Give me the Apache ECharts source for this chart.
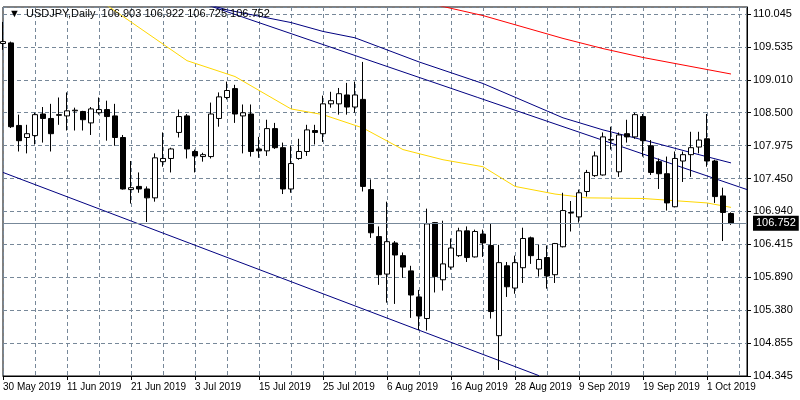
<!DOCTYPE html>
<html><head><meta charset="utf-8">
<script src="https://cdn.jsdelivr.net/npm/echarts@6/dist/echarts.min.js"></script>
<style>html,body{margin:0;padding:0;background:#fff}#c{width:800px;height:400px}</style>
</head><body><div id="c"></div>
<script>
// OHLC per daily bar (open, close, low, high)
const opens  = [109.58,109.59,108.29,108.10,108.13,108.47,108.40,108.46,108.44,108.52,108.51,108.33,108.49,108.54,108.44,108.10,107.28,107.33,107.29,107.15,107.72,107.77,108.18,108.44,107.88,107.80,107.80,108.40,108.73,108.87,108.44,108.47,107.92,107.89,108.24,107.94,107.29,107.77,107.88,108.21,108.16,108.63,108.63,108.77,108.58,108.70,107.28,106.54,105.95,106.44,106.24,106.00,105.59,105.25,106.76,105.86,106.06,106.24,106.63,106.22,106.58,106.40,104.98,106.08,105.73,106.05,106.52,106.03,106.21,105.94,106.38,106.92,106.85,107.25,107.50,107.51,108.06,107.56,108.16,108.11,108.43,107.97,107.72,107.53,107.01,107.73,107.83,107.95,108.08,107.73,107.18,106.903];
const closes = [109.61,108.27,108.05,108.16,108.46,108.40,108.16,108.45,108.52,108.53,108.38,108.55,108.54,108.43,108.10,107.29,107.31,107.29,107.15,107.78,107.77,107.92,108.43,107.92,107.81,107.83,108.47,108.74,108.84,108.47,108.49,107.88,107.89,108.24,107.94,107.29,107.69,107.88,108.22,108.18,108.63,108.68,108.79,108.58,108.77,107.33,106.60,105.94,106.46,106.25,106.06,105.62,105.29,106.74,105.91,106.11,106.36,106.63,106.21,106.62,106.44,105.36,106.13,105.75,106.13,106.51,106.24,106.18,105.92,106.43,106.95,106.91,107.23,107.55,107.81,108.11,108.07,108.14,108.11,108.46,108.05,107.55,107.53,107.07,107.77,107.83,107.94,108.06,107.73,107.17,106.92,106.752];
const lows   = [109.48,108.25,107.88,107.85,107.99,108.02,107.88,108.30,108.21,108.21,108.21,108.14,108.46,108.05,107.97,107.28,107.06,107.23,106.77,107.09,107.64,107.55,108.10,107.77,107.55,107.72,107.77,108.27,108.70,108.33,107.85,107.80,107.78,107.81,107.92,107.21,107.23,107.75,107.81,107.99,108.03,108.57,108.46,108.46,108.49,107.25,106.52,105.78,105.50,105.48,105.89,105.26,105.07,105.06,105.66,105.69,106.02,106.22,106.14,106.21,106.22,105.25,104.44,105.59,105.64,105.81,106.11,105.91,105.72,105.81,106.37,106.62,106.76,107.17,107.48,107.50,107.91,107.48,108.02,108.08,107.80,107.51,107.29,106.95,107.00,107.40,107.48,107.85,107.64,107.07,106.47,106.725];
const highs  = [109.92,109.61,108.46,108.30,108.49,108.58,108.63,108.73,108.81,108.57,108.52,108.58,108.73,108.68,108.63,108.14,107.73,107.55,107.33,107.85,108.18,107.94,108.54,108.47,107.91,107.86,108.65,108.81,108.98,108.93,108.62,108.62,108.11,108.38,108.33,108.02,107.97,108.08,108.30,108.30,108.76,108.82,108.88,108.96,108.98,109.29,107.44,106.70,107.09,106.47,106.29,106.08,105.70,106.98,106.77,106.79,106.51,106.68,106.70,106.65,106.65,106.74,106.41,106.14,106.24,106.68,106.54,106.41,106.40,106.44,107.23,107.10,107.28,107.59,107.88,108.18,108.27,108.18,108.38,108.49,108.47,108.06,107.77,107.80,107.88,107.88,108.19,108.19,108.47,107.75,107.31,106.922];
// indicator lines as [bar index, price]
const maYellow = [[13,110.18],[23,109.31],[29,109.06],[36,108.55],[40,108.46],[45,108.25],[50,107.91],[55,107.75],[60,107.64],[64,107.33],[69,107.21],[73,107.15],[80,107.14],[88,107.07],[91,107.00]];
const maRed = [[53,110.22],[60,110.02],[70,109.66],[75,109.50],[80,109.36],[91,109.10]];
const maBlue = [[25,110.22],[28,110.11],[36,109.91],[40,109.77],[44,109.67],[48,109.48],[52,109.29],[60,108.95],[70,108.41],[75,108.22],[81,108.03],[87,107.83],[91,107.70]];
const trendUpper = [[25,110.21],[93,107.28]];
const trendLower = [[0,107.55],[67,104.35]];
const yTickLabels = ['104.345','104.855','105.380','105.890','106.415','106.940','107.450','107.975','108.500','109.010','109.535','110.045'];
const lastPrice = 106.752;

const months=['Jan','Feb','Mar','Apr','May','Jun','Jul','Aug','Sep','Oct','Nov','Dec'];
const categories=[];
let d=new Date(Date.UTC(2019,4,30));
while(categories.length<94){const wd=d.getUTCDay(); if(wd!==0&&wd!==6) categories.push(d.getUTCDate()+' '+months[d.getUTCMonth()]+' 2019'); d=new Date(d.getTime()+86400000);}
const candles=opens.map((o,i)=>[o,closes[i],lows[i],highs[i]]);

const yMin=104.345, yInt=(110.045-104.345)/11, yMax=110.045+7*yInt/33;
const font='"Liberation Sans", Arial, sans-serif';
const gridC='#778899';
const chart=echarts.init(document.getElementById('c'));
const lineS=(data,color)=>({type:'line',data,symbol:'none',lineStyle:{color,width:1},silent:true,animation:false,z:1});
chart.setOption({
  animation:false,
  grid:{left:3,right:53,top:7,bottom:24,show:true,borderColor:'#000',borderWidth:1},
  title:{text:'▼  USDJPY,Daily  106.903 106.922 106.725 106.752',left:4,top:3,textStyle:{fontSize:11,fontWeight:'normal',color:'#000',fontFamily:font}},
  xAxis:{type:'category',data:categories,boundaryGap:false,
    axisLine:{lineStyle:{color:'#000'}},
    axisTick:{interval:7,length:4,lineStyle:{color:'#000'}},
    axisLabel:{interval:7,align:'left',color:'#000',fontSize:10,fontFamily:font,margin:6},
    splitLine:{show:true,interval:3,lineStyle:{color:gridC,type:[4,3]}}},
  yAxis:{type:'value',position:'right',min:yMin,max:yMax,interval:yInt,
    axisLine:{show:true,lineStyle:{color:'#000'}},
    axisTick:{show:true,length:4,lineStyle:{color:'#000'}},
    axisLabel:{showMaxLabel:false,color:'#000',fontSize:11,fontFamily:font,margin:6,
      formatter:v=>{const k=Math.round((v-yMin)/yInt);return (k>=0&&k<yTickLabels.length)?yTickLabels[k]:'';}},
    splitLine:{show:true,lineStyle:{color:gridC,type:[4,3]}}},
  series:[
    lineS(trendLower,'#000080'),lineS(trendUpper,'#000080'),lineS(maBlue,'#000080'),
    lineS(maRed,'#ff0000'),lineS(maYellow,'#ffd700'),
    {type:'candlestick',data:candles,barWidth:5,z:3,
     itemStyle:{color:'#fff',color0:'#000',borderColor:'#000',borderColor0:'#000',borderWidth:1},
     markLine:{symbol:'none',silent:true,animation:false,
       lineStyle:{color:'#778899',type:'solid',width:1},
       label:{position:'end',formatter:'106.752',color:'#fff',backgroundColor:'#000',padding:[2,3],fontSize:11,fontFamily:font,distance:6},
       data:[{yAxis:lastPrice}]}}
  ]
});
</script></body></html>
